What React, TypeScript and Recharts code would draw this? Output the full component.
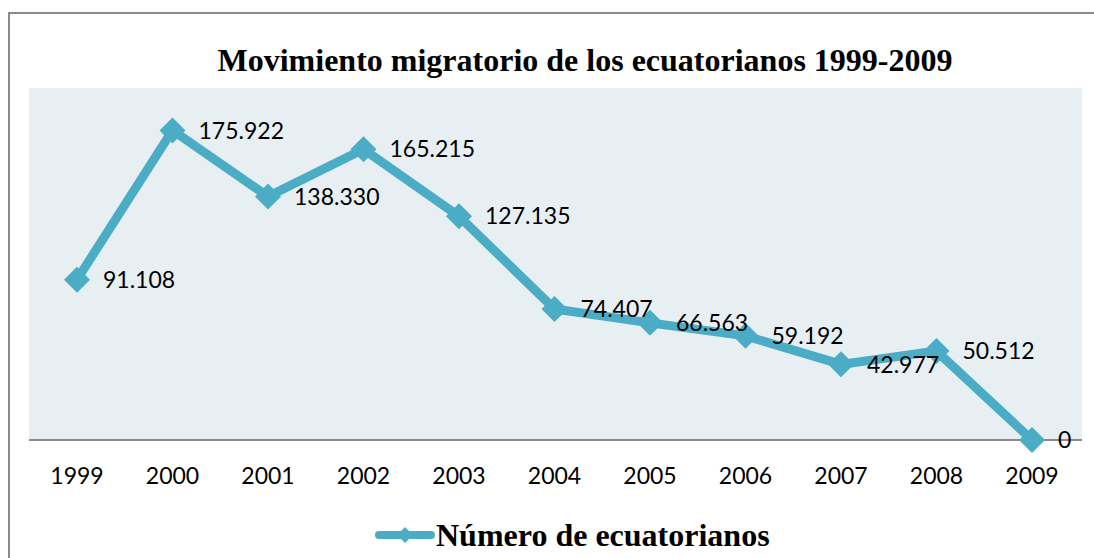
import { LineChart, Line, XAxis, YAxis, CartesianGrid, Legend, LabelList } from 'recharts';

const years = ['1999', '2000', '2001', '2002', '2003', '2004', '2005', '2006', '2007', '2008', '2009'];
const migrants = [91108, 175922, 138330, 165215, 127135, 74407, 66563, 59192, 42977, 50512, 0];
const seriesName = 'Número de ecuatorianos';
const title = 'Movimiento migratorio de los ecuatorianos 1999-2009';

const data = years.map((year, i) => ({ year, value: migrants[i] }));

const COLOR = '#4bacc6';

const fmt = (v: any) => String(v).replace(/\B(?=(\d{3})+(?!\d))/g, '.');

const Diamond = (props: any) => {
  const { cx, cy } = props;
  if (cx == null || cy == null) return null;
  const r = 13;
  return <path d={`M${cx},${cy - r}L${cx + r},${cy}L${cx},${cy + r}L${cx - r},${cy}Z`} fill={COLOR} />;
};

const LegendContent = () => (
  <div style={{ display: 'flex', alignItems: 'center', height: 40 }}>
    <svg width={62} height={24}>
      <line x1={5} y1={12} x2={57} y2={12} stroke={COLOR} strokeWidth={8} strokeLinecap="round" />
      <path d="M31,4L39,12L31,20L23,12Z" fill={COLOR} />
    </svg>
    <span style={{ fontFamily: '"Liberation Serif", "Times New Roman", serif', fontWeight: 'bold', fontSize: 32, color: '#000' }}>
      {seriesName}
    </span>
  </div>
);

export default function App() {
  return (
    <div style={{ position: 'absolute', left: 0, top: 0, width: 1094, height: 558, overflow: 'hidden', background: '#fff' }}>
      <style>{`body{margin:0;overflow:hidden}`}</style>
      <div style={{ position: 'absolute', left: 8, top: 12, width: 1200, height: 600, borderTop: '2px solid #8a8a8a', borderLeft: '2px solid #8a8a8a' }} />
      <div
        style={{
          position: 'absolute', left: 100, width: 970, top: 42, textAlign: 'center',
          fontFamily: '"Liberation Serif", "Times New Roman", serif', fontWeight: 'bold', fontSize: 32, color: '#000',
        }}
      >
        {title}
      </div>
      <div style={{ position: 'absolute', left: 0, top: 0 }}>
        <LineChart width={1094} height={558} data={data} margin={{ top: 88, right: 12, left: 29, bottom: 48 }}>
          <CartesianGrid horizontal={false} vertical={false} fill="#e8eff3" />
          <XAxis
            dataKey="year"
            padding={{ left: 48, right: 50 }}
            height={30}
            tickLine={false}
            axisLine={{ stroke: '#8a8a8a', strokeWidth: 2 }}
            tickMargin={22}
            tick={{ fill: '#000', fontSize: 23, fontFamily: 'Lato, "Open Sans", sans-serif' }}
          />
          <YAxis hide domain={[0, 200000]} />
          <Legend
            content={<LegendContent />}
            wrapperStyle={{ top: 515, bottom: 'auto', left: 374, width: 'auto' }}
          />
          <Line
            type="linear"
            dataKey="value"
            name={seriesName}
            stroke={COLOR}
            strokeWidth={9}
            dot={<Diamond />}
            activeDot={false}
            isAnimationActive={false}
          >
            <LabelList
              dataKey="value"
              position="right"
              offset={26}
              formatter={fmt}
              fill="#000"
              fontSize={23}
              fontFamily='Lato, "Open Sans", sans-serif'
            />
          </Line>
        </LineChart>
      </div>
    </div>
  );
}
